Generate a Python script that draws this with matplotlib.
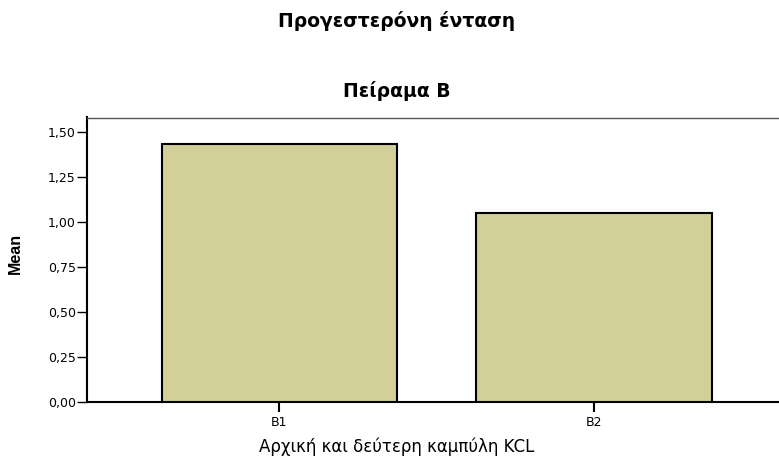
import numpy as np
import matplotlib
matplotlib.use("Agg")
import matplotlib.pyplot as plt
from matplotlib.ticker import FuncFormatter

plt.rcParams['font.family'] = ['DejaVu Sans']

groups = ["B1", "B2"]
means = [1.433, 1.052]
yticks = [0.0, 0.25, 0.5, 0.75, 1.0, 1.25, 1.5]

W, H = 779, 457
fig = plt.figure(figsize=(W/100, H/100), dpi=100)
# axes box in pixels: left 87, top 117.5, bottom 401.7, right past the edge
left, top, bottom, right = 87, 117.5, 401.7, 786.5
ax = fig.add_axes([left/W, 1-bottom/H, (right-left)/W, (bottom-top)/H])

x = np.arange(len(groups))
ax.bar(x, means, width=0.75, color="#d3cf99", edgecolor="black", linewidth=1.5, zorder=3)

ax.set_xlim(-0.612, 1.612)
ax.set_ylim(0, 1.582)
ax.set_xticks(x)
ax.set_xticklabels(groups, fontsize=9)
ax.set_yticks(yticks)
ax.yaxis.set_major_formatter(FuncFormatter(lambda v, p: f"{v:.2f}".replace(".", ",")))
ax.tick_params(axis="y", labelsize=9, length=7, width=1, pad=1)
ax.tick_params(axis="x", length=7, width=1.5, pad=3)

ax.spines["left"].set_linewidth(1.5)
ax.spines["bottom"].set_linewidth(1.5)
ax.spines["top"].set_color("#555555")
ax.spines["top"].set_linewidth(1)
ax.spines["right"].set_visible(False)

ax.set_ylabel("Mean", fontsize=11.5, fontweight="bold",
              family=["Liberation Sans Narrow", "Liberation Sans", "DejaVu Sans"])
ax.yaxis.set_label_coords((23-left)/(right-left), (bottom-253)/(bottom-top))
ax.set_xlabel("Αρχική και δεύτερη καμπύλη KCL", fontsize=12)
ax.xaxis.set_label_coords((397-left)/(right-left), (bottom-437)/(bottom-top))

fig.text(397/W, 1-21/H, "Προγεστερόνη ένταση", ha="center", va="center",
         fontsize=13.5, fontweight="bold")
fig.text(397/W, 1-91/H, "Πείραμα Β", ha="center", va="center",
         fontsize=13.5, fontweight="bold")

fig.savefig("out.png", dpi=100)
